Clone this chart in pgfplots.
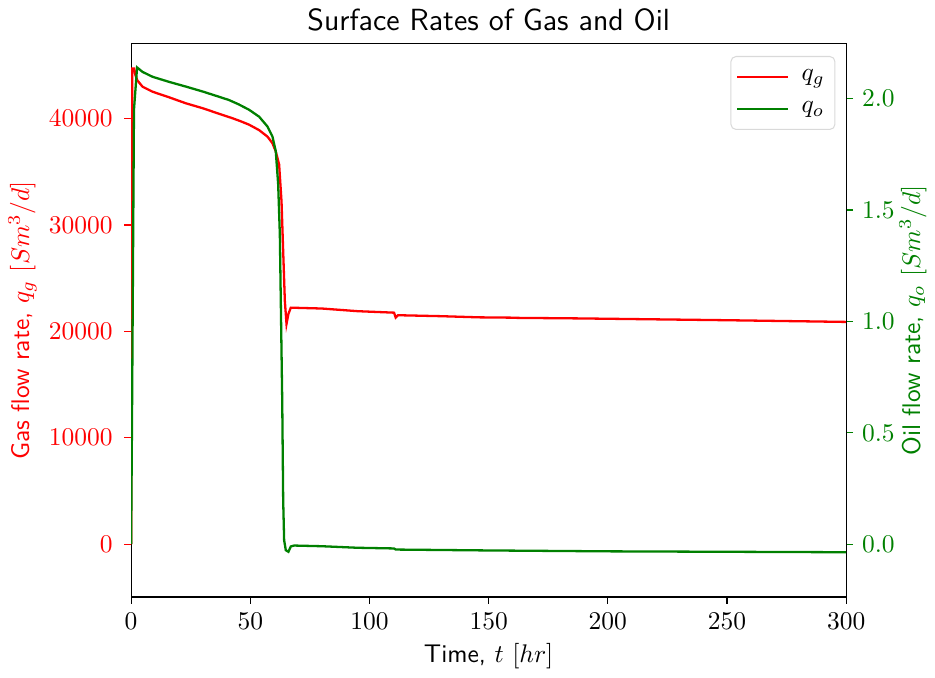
\documentclass[border=0pt]{standalone}
\usepackage{pgfplots}
\pgfplotsset{compat=1.18}
\definecolor{mred}{rgb}{1,0,0}
\definecolor{mgreen}{rgb}{0,0.5,0}
\pgfplotstableread{
t q
0 0
0.5 44700
1.3 44700
1.8 44100
2.6 43600
4.8 43000
9 42530
16 42000
23 41440
30 40980
37 40450
42 40080
46 39750
49.5 39430
53.7 38920
57.2 38310
59.3 37690
60.7 36910
62.1 35690
63.1 32230
63.8 27540
64.5 22860
65.2 20700
66.0 21640
67.0 22230
80 22150
95 21900
110.3 21760
111 21300
112 21520
130 21430
146 21320
160 21290
162 21270
188 21220
250 21050
300 20890
}\gas
\pgfplotstableread{
t q
0 0
0.4 0.6
1.2 1.95
2.5 2.14
4.8 2.12
9 2.098
16 2.075
23 2.054
30 2.032
37 2.008
41 1.994
45 1.975
49.5 1.950
53.7 1.919
57.2 1.875
59.3 1.83
60.7 1.763
61.7 1.615
62.4 1.39
62.8 1.09
63.4 0.644
63.8 0.197
64.2 0.018
64.9 -0.027
66.0 -0.034
67.0 -0.010
68.4 -0.006
80 -0.009
95 -0.016
110.3 -0.019
111 -0.024
150 -0.028
200 -0.032
250 -0.034
300 -0.036
}\oil
\begin{document}
\begin{tikzpicture}
\pgfplotsset{
  every axis/.append style={
    width=280.5pt, height=217pt, scale only axis,
    xmin=0, xmax=300,
    tick align=outside, major tick length=2.7pt,
    axis line style={line width=0.45pt},
    every tick/.style={line width=0.45pt},
    label style={font=\sffamily},
  }
}
\begin{axis}[
  ymin=-4970, ymax=47030,
  xtick={0,50,...,300},
  xtick pos=bottom, ytick pos=left,
  ytick={0,10000,20000,30000,40000},
  scaled y ticks=false,
  yticklabel style={/pgf/number format/1000 sep={}, color=mred, xshift=-1pt},
  y tick style={color=mred, line width=0.45pt},
  xlabel={Time, $t$ $[hr]$},
  xlabel style={yshift=1.2pt},
  ylabel={Gas flow rate, $q_g$ $[Sm^3/d]$},
  ylabel style={color=mred, yshift=-2pt},
  title={\large\sffamily Surface Rates of Gas and Oil},
  title style={yshift=-4.5pt},
]
\addplot[mred, line width=0.9pt] table[x=t,y=q] {\gas};
\end{axis}
\begin{axis}[
  ymin=-0.237, ymax=2.246,
  axis x line=none,
  axis y line*=right,
  ytick={0,0.5,1,1.5,2},
  yticklabel style={/pgf/number format/fixed, /pgf/number format/fixed zerofill, /pgf/number format/precision=1, color=mgreen},
  y tick style={color=mgreen, line width=0.45pt},
  ylabel={Oil flow rate, $q_o$ $[Sm^3/d]$},
  ylabel style={color=mgreen, yshift=5pt},
  legend style={at={(0.985,0.978)}, anchor=north east, draw=black!15, rounded corners=2pt,
    font=\normalsize, row sep=3pt, inner xsep=2pt, inner ysep=3pt},
  legend cell align=left,
  legend image code/.code={\draw[#1] (0pt,0pt) -- (20pt,0pt);},
]
\addlegendimage{mred, line width=0.9pt}
\addlegendentry{\;$q_g$}
\addplot[mgreen, line width=0.9pt] table[x=t,y=q] {\oil};
\addlegendentry{\;$q_o$}
\end{axis}
\end{tikzpicture}
\end{document}
